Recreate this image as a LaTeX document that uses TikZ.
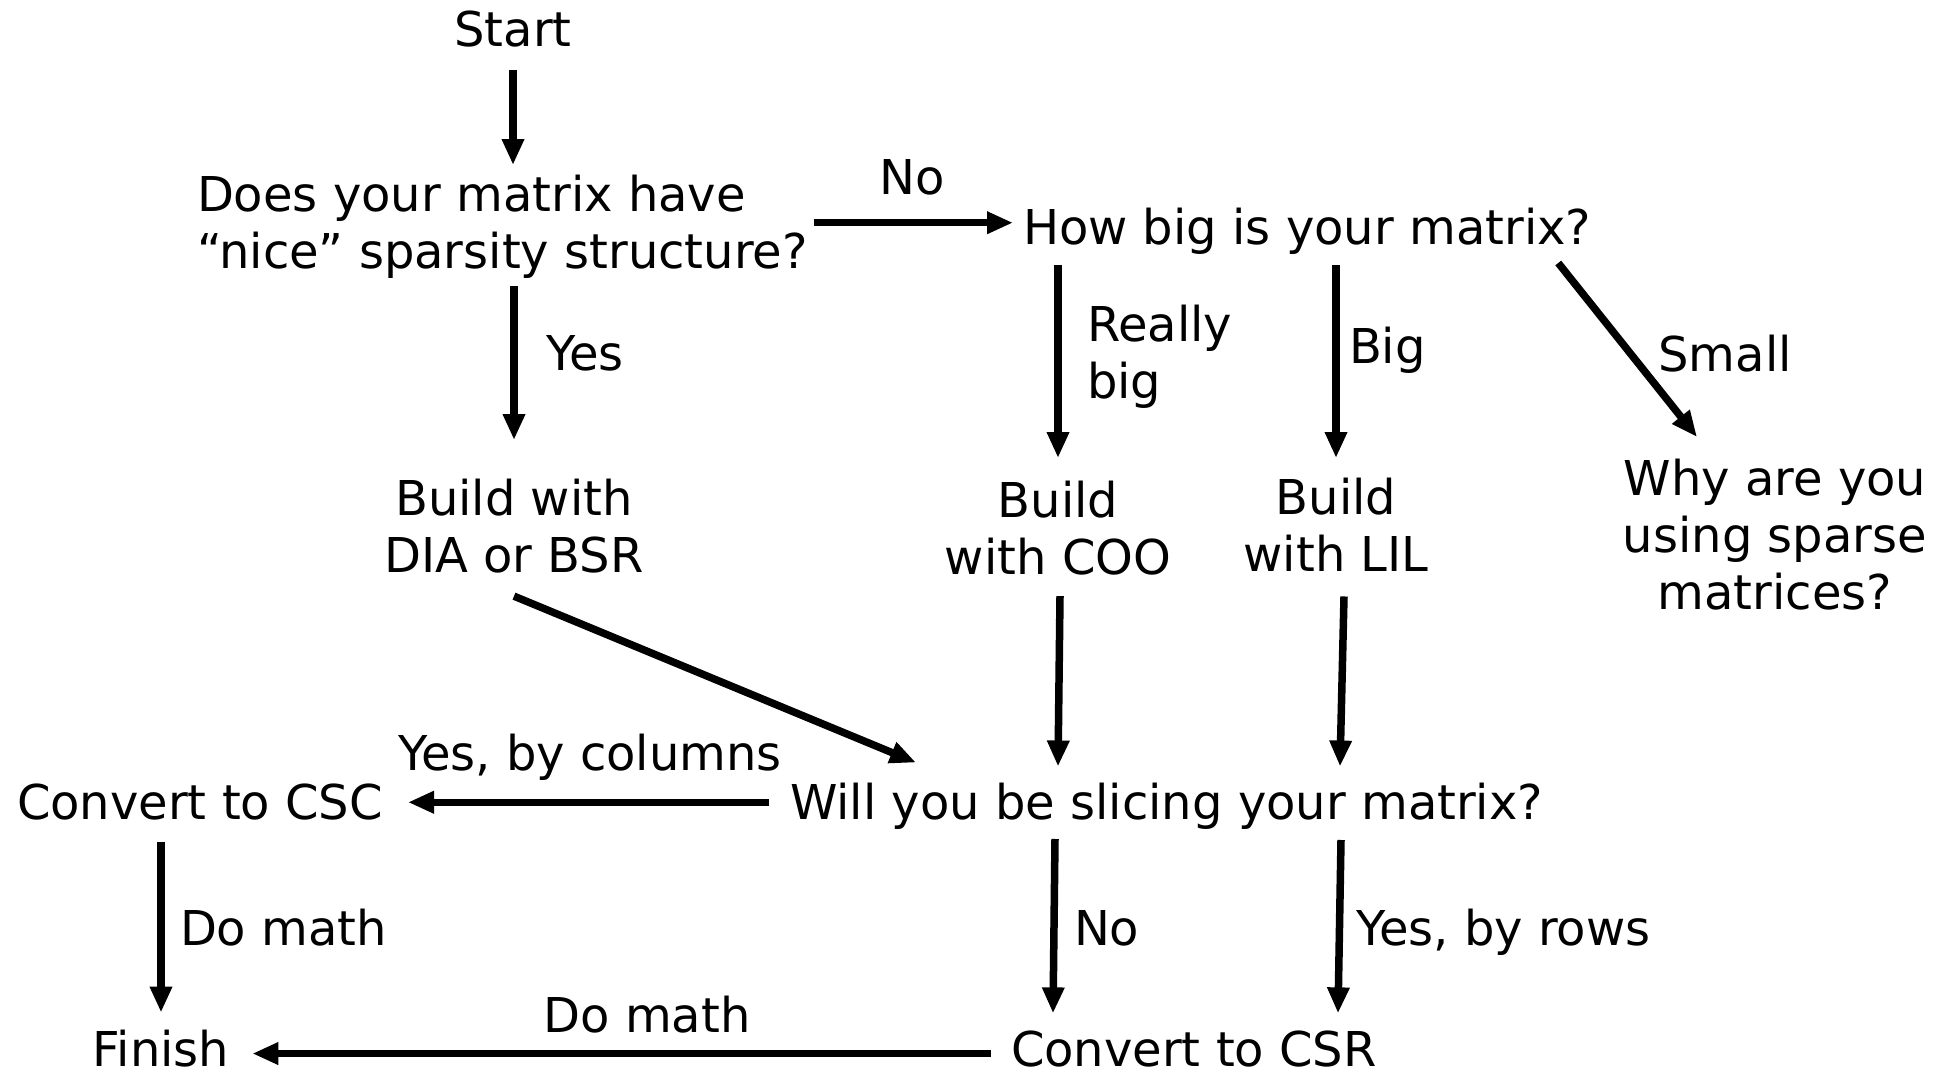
\documentclass[tikz,border=0pt]{standalone}
\usepackage{fontspec}
\setmainfont{DejaVu Sans}
\usetikzlibrary{arrows.meta,calc}
\begin{document}
\begin{tikzpicture}[x=1pt,y=-1pt,
  every node/.style={inner sep=0pt,outer sep=0pt,font=\fontsize{48pt}{57pt}\selectfont},
  arr/.style={line width=7.5pt,-{Triangle[length=26pt,width=21pt]}}]
\useasboundingbox (0,0) rectangle (1942,1073);
% nodes
\node[anchor=base] (start) at (513,47) {Start};
\node[anchor=north west,align=left] (q1) at (197,175) {Does your matrix have\\“nice” sparsity structure?};
\node[anchor=base] (lno) at (912,194) {No};
\node[anchor=base west] (q2) at (1023,244) {How big is your matrix?};
\node[anchor=base west] (lyes) at (546,370) {Yes};
\node[anchor=north,align=center] (dia) at (514,479) {Build with\\DIA or BSR};
\node[anchor=north west,align=left] (lrb) at (1087,305) {Really\\big};
\node[anchor=base west] (lbig) at (1349,363) {Big};
\node[anchor=base] (lsmall) at (1725,371) {Small};
\node[anchor=north,align=center] (coo) at (1058,481) {Build\\with COO};
\node[anchor=north,align=center] (lil) at (1336,478) {Build\\with LIL};
\node[anchor=north,align=center] (why) at (1775,459) {Why are you\\using sparse\\matrices?};
\node[anchor=base west] (will) at (790,819) {Will you be slicing your matrix?};
\node[anchor=base] (lybc) at (590,770) {Yes, by columns};
\node[anchor=base west] (csc) at (17,819) {Convert to CSC};
\node[anchor=base west] (ldm1) at (180,945) {Do math};
\node[anchor=base west] (lno2) at (1074,945) {No};
\node[anchor=base west] (lybr) at (1356,945) {Yes, by rows};
\node[anchor=base] (finish) at (161,1066) {Finish};
\node[anchor=base] (ldm2) at (647,1032) {Do math};
\node[anchor=base west] (csr) at (1011,1066) {Convert to CSR};
% connectors
\draw[arr] ([yshift=-22pt]start.south) -- ([yshift=10pt]start.south |- q1.north);
\draw[arr] ([xshift=6pt,yshift=4pt]q1.east) -- ([xshift=-10pt,yshift=4pt]q1.east -| q2.west);
\draw[arr] ([yshift=-8pt]dia.north |- q1.south) -- ([yshift=39pt]dia.north);
\draw[arr] ([yshift=-11pt]coo.north |- q2.south) -- ([yshift=23pt]coo.north);
\draw[arr] ([yshift=-11pt]lil.north |- q2.south) -- ([yshift=20pt]lil.north);
\draw[arr] ([xshift=-33pt,yshift=-9pt]q2.south east) -- ([xshift=-78pt,yshift=22pt]why.north);
\draw[arr] ([yshift=-23pt]dia.south) -- ([xshift=126pt,yshift=20pt]will.north west);
\draw[arr] ([xshift=2pt,yshift=-21pt]coo.south) -- ([yshift=16pt]coo.south |- will.north);
\draw[arr] ([xshift=8pt,yshift=-25pt]lil.south) -- ([xshift=4pt,yshift=16pt]lil.south |- will.north);
\draw[arr] ([xshift=-21pt,yshift=3.5pt]will.west) -- ([xshift=25pt,yshift=3.5pt]will.west -| csc.east);
\draw[arr] ([yshift=-22pt]finish.north |- csc.south) -- ([yshift=17pt]finish.north);
\draw[arr] ([xshift=-3pt,yshift=-10pt]will.south -| coo.south) -- ([xshift=-5pt,yshift=17pt]csr.north -| coo.south);
\draw[arr] ([xshift=5pt,yshift=-11pt]will.south -| lil.south) -- ([xshift=2pt,yshift=17pt]csr.north -| lil.south);
\draw[arr] ([xshift=-20pt,yshift=-5pt]csr.west) -- ([xshift=23pt,yshift=-5pt]csr.west -| finish.east);
\end{tikzpicture}
\end{document}
